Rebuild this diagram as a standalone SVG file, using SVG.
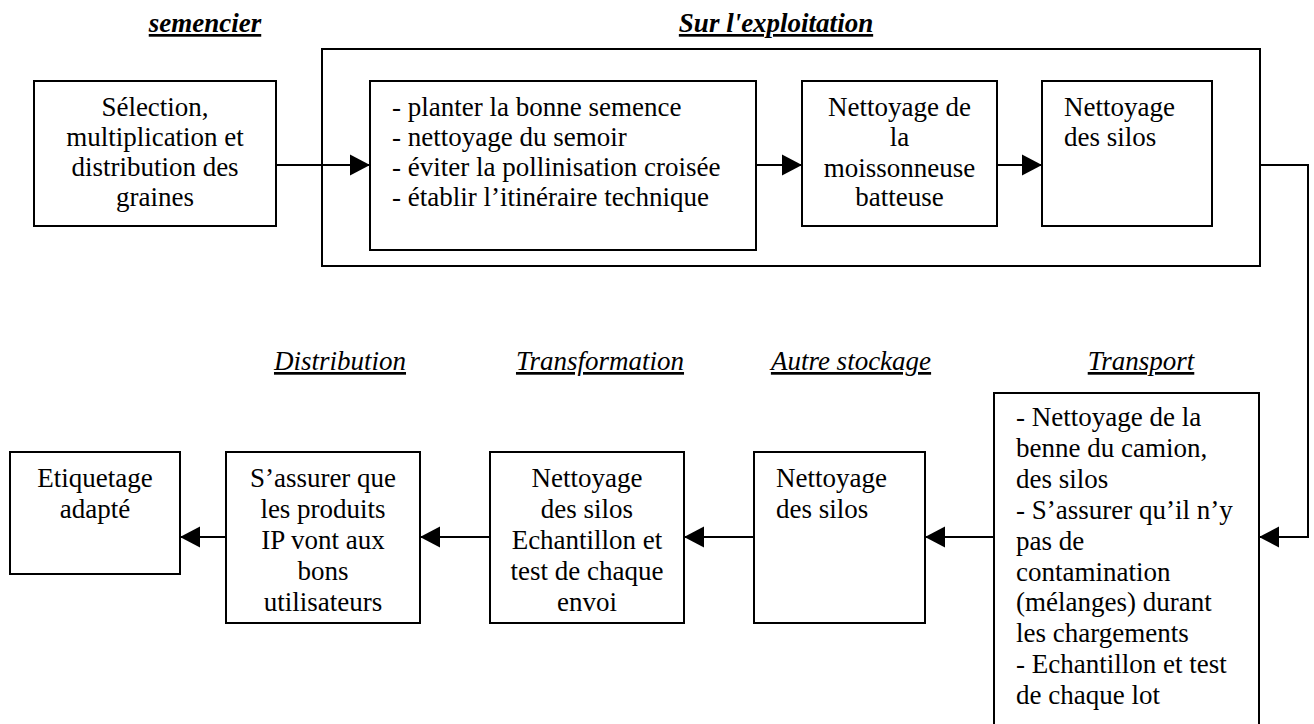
<svg xmlns="http://www.w3.org/2000/svg" width="1314" height="724" viewBox="0 0 1314 724">
<style>
.box{fill:#fff;stroke:#000;stroke-width:2}
.c{text-anchor:middle}
.h{font-style:italic;text-decoration:underline;text-anchor:middle}
.hb{font-weight:bold}
.ln{fill:none;stroke:#000;stroke-width:2}
</style>
<defs>
<marker id="ah" markerUnits="userSpaceOnUse" markerWidth="20" markerHeight="22" refX="20" refY="11" orient="auto">
<path d="M0,0.5 L20,11 L0,21.5 z" fill="#000"/>
</marker>
</defs>
<rect width="1314" height="724" fill="#fff"/>

<g font-family="Liberation Serif, Times New Roman, serif" font-size="27" fill="#000">
<g id="labels">
<text class="h hb" x="205" y="32">semencier</text>
<text class="h hb" x="776" y="32">Sur l'exploitation</text>
<text class="h" x="340" y="370">Distribution</text>
<text class="h" x="600" y="370">Transformation</text>
<text class="h" x="851" y="370">Autre stockage</text>
<text class="h" x="1141" y="370">Transport</text>
</g>

<g id="exploitation">
<rect class="box" x="322" y="49" width="938" height="217"/>
</g>

<g id="selection">
<rect class="box" x="34" y="81" width="242" height="145"/>
<text class="c" x="155"><tspan x="155" y="116">Sélection,</tspan><tspan x="155" y="146">multiplication et</tspan><tspan x="155" y="176">distribution des</tspan><tspan x="155" y="206">graines</tspan></text>
</g>

<g id="planter">
<rect class="box" x="370" y="81" width="386" height="169"/>
<text x="392"><tspan x="392" y="116">- planter la bonne semence</tspan><tspan x="392" y="146">- nettoyage du semoir</tspan><tspan x="392" y="176">- éviter la pollinisation croisée</tspan><tspan x="392" y="206">- établir l’itinéraire technique</tspan></text>
</g>

<g id="moissonneuse">
<rect class="box" x="802" y="81" width="195" height="145"/>
<text class="c" x="899.5"><tspan x="899.5" y="116">Nettoyage de</tspan><tspan x="899.5" y="146">la</tspan><tspan x="899.5" y="177">moissonneuse</tspan><tspan x="899.5" y="206">batteuse</tspan></text>
</g>

<g id="silos1">
<rect class="box" x="1042" y="81" width="170" height="145"/>
<text x="1064"><tspan x="1064" y="116">Nettoyage</tspan><tspan x="1064" y="146">des silos</tspan></text>
</g>

<g id="transport">
<rect class="box" x="994" y="393" width="265" height="340"/>
<text x="1016"><tspan x="1016" y="426">- Nettoyage de la</tspan><tspan x="1016" y="457">benne du camion,</tspan><tspan x="1016" y="488">des silos</tspan><tspan x="1016" y="519">- S’assurer qu’il n’y</tspan><tspan x="1016" y="550">pas de</tspan><tspan x="1016" y="581">contamination</tspan><tspan x="1016" y="611">(mélanges) durant</tspan><tspan x="1016" y="642">les chargements</tspan><tspan x="1016" y="673">- Echantillon et test</tspan><tspan x="1016" y="704">de chaque lot</tspan></text>
</g>

<g id="autre">
<rect class="box" x="754" y="452" width="171" height="171"/>
<text x="776"><tspan x="776" y="487">Nettoyage</tspan><tspan x="776" y="518">des silos</tspan></text>
</g>

<g id="transformation">
<rect class="box" x="490" y="452" width="194" height="171"/>
<text class="c" x="587"><tspan x="587" y="487">Nettoyage</tspan><tspan x="587" y="518">des silos</tspan><tspan x="587" y="549">Echantillon et</tspan><tspan x="587" y="580">test de chaque</tspan><tspan x="587" y="611">envoi</tspan></text>
</g>

<g id="distribution">
<rect class="box" x="226" y="452" width="194" height="171"/>
<text class="c" x="323"><tspan x="323" y="487">S’assurer que</tspan><tspan x="323" y="518">les produits</tspan><tspan x="323" y="549">IP vont aux</tspan><tspan x="323" y="580">bons</tspan><tspan x="323" y="611">utilisateurs</tspan></text>
</g>

<g id="etiquetage">
<rect class="box" x="10" y="452" width="170" height="122"/>
<text class="c" x="95"><tspan x="95" y="487">Etiquetage</tspan><tspan x="95" y="518">adapté</tspan></text>
</g>
</g>

<g id="connectors">
<path class="ln" d="M276,165 H370" marker-end="url(#ah)"/>
<path class="ln" d="M756,165 H802" marker-end="url(#ah)"/>
<path class="ln" d="M997,165 H1042" marker-end="url(#ah)"/>
<path class="ln" d="M1260,165 H1308 V537 H1259" marker-end="url(#ah)"/>
<path class="ln" d="M994,537 H925" marker-end="url(#ah)"/>
<path class="ln" d="M754,537 H684" marker-end="url(#ah)"/>
<path class="ln" d="M490,537 H420" marker-end="url(#ah)"/>
<path class="ln" d="M226,537 H180" marker-end="url(#ah)"/>
</g>
</svg>
